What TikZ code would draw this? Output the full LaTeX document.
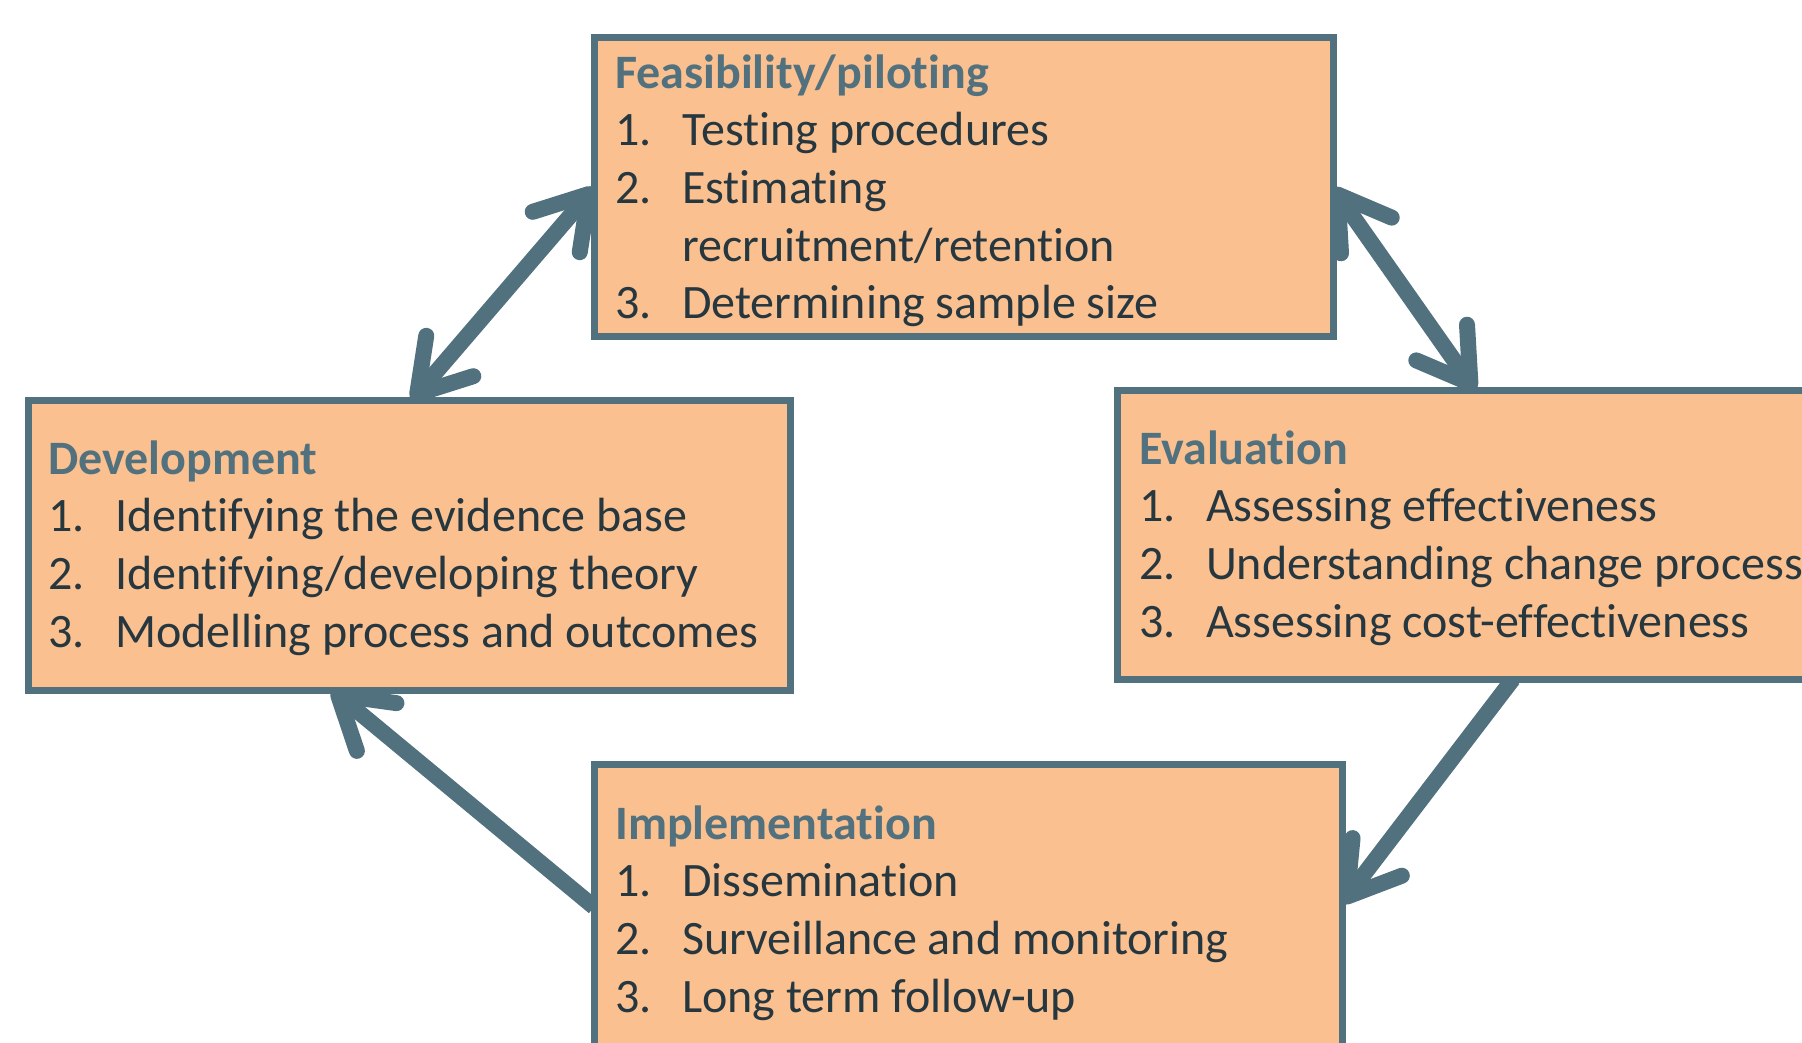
\documentclass[tikz,border=0pt]{standalone}
\usepackage{fontspec}
\setmainfont{Carlito}[Ligatures=NoCommon]
\usetikzlibrary{arrows.meta,backgrounds}

\definecolor{boxfill}{HTML}{FAC090}
\definecolor{edgecol}{HTML}{52717F}
\definecolor{textcol}{HTML}{26373F}
\newcommand{\head}[1]{\multicolumn{2}{@{}l@{}}{\bfseries\color{edgecol}#1}}

\begin{document}
\begin{tikzpicture}[x=1pt,y=1pt,
    stage/.style={draw=edgecol,line width=7pt,fill=boxfill,inner sep=0pt,outer sep=0pt,anchor=north west},
    items/.style={anchor=base west,inner sep=0pt,text=textcol,font=\fontsize{48}{57.7}\selectfont},
    barb/.tip={Straight Barb[length=50pt,width=62pt,round]},
    link/.style={draw=edgecol,line width=16pt,-{barb}}]
  \useasboundingbox (0,0) rectangle (1802,-1042);
  \clip (0,0) rectangle (1802,-1042);
  \node[stage,minimum width=739pt,minimum height=299pt] (feas) at (594,-37) {};
  \node[stage,minimum width=762pt,minimum height=290pt] (dev) at (28,-400) {};
  \node[stage,minimum width=800pt,minimum height=289pt] (eval) at (1117,-390) {};
  \node[stage,minimum width=748pt,minimum height=340pt] (impl) at (594,-764) {};
  \node[items] (feasL) at ([xshift=21pt,yshift=-51pt]feas.north west) {\begin{tabular}[t]{@{}p{67pt}@{}l@{}}
      \head{Feasibility/piloting}\\
      1. & Testing procedures\\
      2. & Estimating\\
         & recruitment/retention\\
      3. & Determining sample size
    \end{tabular}};
  \node[items] (devL) at ([xshift=20pt,yshift=-74pt]dev.north west) {\begin{tabular}[t]{@{}p{67pt}@{}l@{}}
      \head{Development}\\
      1. & Identifying the evidence base\\
      2. & Identifying/developing theory\\
      3. & Modelling process and outcomes
    \end{tabular}};
  \node[items] (evalL) at ([xshift=22pt,yshift=-74pt]eval.north west) {\begin{tabular}[t]{@{}p{67pt}@{}l@{}}
      \head{Evaluation}\\
      1. & Assessing effectiveness\\
      2. & Understanding change process\\
      3. & Assessing cost-effectiveness
    \end{tabular}};
  \node[items] (implL) at ([xshift=21pt,yshift=-75pt]impl.north west) {\begin{tabular}[t]{@{}p{67pt}@{}l@{}}
      \head{Implementation}\\
      1. & Dissemination\\
      2. & Surveillance and monitoring\\
      3. & Long term follow-up
    \end{tabular}};
  \begin{scope}[on background layer]
    \draw[link,{barb}-{barb}] ([xshift=384pt]dev.north west) -- ([yshift=-151pt]feas.north west);
    \draw[link,{barb}-{barb}] ([yshift=-151pt]feas.north east) -- ([xshift=358pt]eval.north west);
    \draw[link] ([xshift=396pt]eval.south west) -- ([yshift=-139pt]impl.north east);
    \draw[link] ([yshift=-143pt]impl.north west) -- ([xshift=304pt]dev.south west);
  \end{scope}
\end{tikzpicture}
\end{document}
